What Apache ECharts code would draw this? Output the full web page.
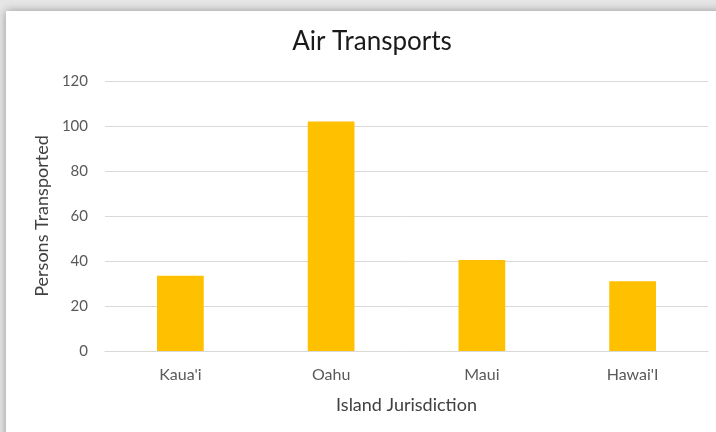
<!DOCTYPE html>
<html>
<head>
<meta charset="utf-8">
<script src="https://cdn.jsdelivr.net/npm/echarts@6/dist/echarts.min.js"></script>
<style>
  html, body { margin: 0; padding: 0; width: 716px; height: 432px; overflow: hidden; background: #e6e6e6; }
  #frame { position: absolute; left: 6px; top: 11px; width: 720px; height: 440px; background: #fff; box-shadow: 0 0 9px rgba(0,0,0,0.35); }
  #chart { position: absolute; left: 0; top: 0; width: 716px; height: 432px; }
</style>
</head>
<body>
<div id="frame"></div>
<div id="chart"></div>
<script>
  // values
  var islands = ["Kaua'i", 'Oahu', 'Maui', "Hawai'I"];
  var persons = [33.5, 102, 40.5, 31];
  var yTicks = [0, 20, 40, 60, 80, 100, 120];

  var font = 'Lato, "Open Sans", sans-serif';

  var option = {
    animation: false,
    title: {
      text: 'Air Transports',
      left: 367,
      top: 24,
      textAlign: 'center',
      textStyle: { fontFamily: font, fontSize: 26, fontWeight: 'normal', color: '#1a1a1a' }
    },
    grid: { left: 105, right: 8, top: 81, bottom: 81, containLabel: false },
    xAxis: {
      type: 'category',
      data: islands,
      name: 'Island Jurisdiction',
      nameLocation: 'middle',
      nameGap: 45,
      nameTextStyle: { fontFamily: font, fontSize: 18, color: '#404040' },
      axisLine: { lineStyle: { color: '#d9d9d9' } },
      axisTick: { show: false },
      axisLabel: { fontFamily: font, fontSize: 16, color: '#595959', margin: 16 }
    },
    yAxis: {
      type: 'value',
      min: yTicks[0],
      max: yTicks[yTicks.length - 1],
      interval: 20,
      name: 'Persons Transported',
      nameLocation: 'middle',
      nameGap: 51,
      nameTextStyle: { fontFamily: font, fontSize: 18, color: '#404040' },
      axisLine: { show: false },
      axisTick: { show: false },
      axisLabel: { fontFamily: font, fontSize: 15, color: '#595959', margin: 17 },
      splitLine: { lineStyle: { color: '#d9d9d9' } }
    },
    series: [{
      type: 'bar',
      data: persons,
      barWidth: '31%',
      itemStyle: { color: '#FFC000' }
    }]
  };

  var chart = echarts.init(document.getElementById('chart'));
  chart.setOption(option);
</script>
</body>
</html>
